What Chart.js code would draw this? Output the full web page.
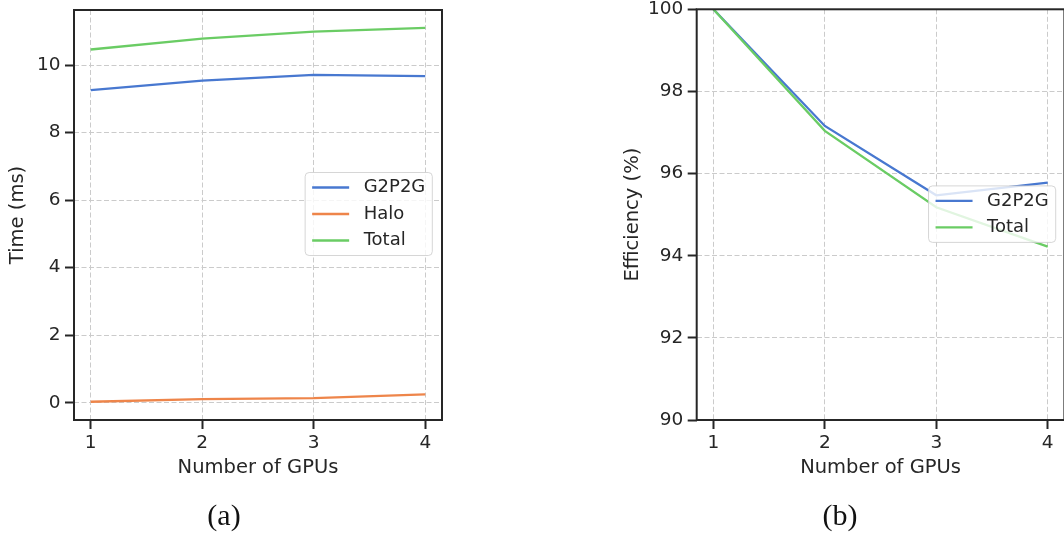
<!DOCTYPE html>
<html><head><meta charset="utf-8">
<script src="https://cdn.jsdelivr.net/npm/chart.js@4.4.1/dist/chart.umd.min.js"></script>
<style>
html,body{margin:0;padding:0;background:#fff;overflow:hidden;width:1064px;height:534px;position:relative;}
#cA{position:absolute;left:0;top:0;}
#cB{position:absolute;left:600px;top:0;}
.cap{position:absolute;font-family:"Liberation Serif",serif;font-size:30px;line-height:1;color:#111;transform:translate(-50%,-50%);white-space:nowrap;}
</style></head><body>
<canvas id="cA" width="470" height="534"></canvas>
<canvas id="cB" width="480" height="534"></canvas>
<div class="cap" style="left:224px;top:515px">(a)</div>
<div class="cap" style="left:840px;top:515px">(b)</div>
<script>
// ---- data ----
const gpus = [1, 2, 3, 4];
const timeG2P2G = [9.26, 9.54, 9.71, 9.67];
const timeHalo  = [0.03, 0.11, 0.14, 0.25];
const timeTotal = [10.46, 10.78, 10.99, 11.10];
const effG2P2G  = [100, 97.16, 95.47, 95.78];
const effTotal  = [100, 97.04, 95.18, 94.22];
const xTicks    = [1, 2, 3, 4];
const timeTicks = [0, 2, 4, 6, 8, 10];
const effTicks  = [90, 92, 94, 96, 98, 100];

const FONT = '"DejaVu Sans", sans-serif';
const INK = '#262626';
const BLUE = '#4878d0', ORANGE = '#ee854a', GREEN = '#6acc64';
const GRID = '#cbcbcb';

const pts = arr => gpus.map((g, i) => ({x: g, y: arr[i]}));

const spinePlugin = {
  id: 'spines',
  afterDatasetsDraw(chart) {
    const {ctx, chartArea: ca} = chart;
    ctx.save();
    ctx.strokeStyle = INK;
    ctx.lineWidth = 2;
    ctx.strokeRect(ca.left, ca.top, ca.right - ca.left, ca.bottom - ca.top);
    ctx.restore();
  }
};

const boxLegend = {
  id: 'boxLegend',
  afterDraw(chart, args, opts) {
    const {ctx, chartArea: ca} = chart;
    const items = chart.data.datasets.map(d => ({label: d.label, color: d.borderColor}));
    ctx.save();
    ctx.font = opts.size + 'px ' + FONT;
    const tw = Math.max(...items.map(i => ctx.measureText(i.label).width));
    const padL = 7, handle = 37, gap = 14.5, padR = 7, rowH = 26.5, padV = 1.75;
    const w = padL + handle + gap + tw + padR;
    const h = items.length * rowH + 2 * padV;
    const x = ca.right - opts.inset - w;
    const y = (ca.top + ca.bottom) / 2 - h / 2 + (opts.dy || 0);
    ctx.beginPath();
    ctx.roundRect(x, y, w, h, 4);
    ctx.fillStyle = 'rgba(255,255,255,0.8)';
    ctx.fill();
    ctx.strokeStyle = 'rgba(204,204,204,0.8)';
    ctx.lineWidth = 1;
    ctx.stroke();
    items.forEach((it, i) => {
      const cy = y + padV + rowH * (i + 0.5);
      ctx.beginPath();
      ctx.moveTo(x + padL, cy);
      ctx.lineTo(x + padL + handle, cy);
      ctx.strokeStyle = it.color;
      ctx.lineWidth = 2.3;
      ctx.stroke();
      ctx.fillStyle = INK;
      ctx.textBaseline = 'middle';
      ctx.textAlign = 'left';
      ctx.fillText(it.label, x + padL + handle + gap, cy);
    });
    ctx.restore();
  }
};

function xScale() {
  return {
    type: 'linear', min: 0.85, max: 4.15,
    afterBuildTicks: s => { s.ticks = xTicks.map(v => ({value: v})); },
    afterFit: s => { s.height = 60; s.paddingLeft = 0; s.paddingRight = 0; },
    ticks: {font: {family: FONT, size: 18.5}, color: INK, padding: 3.5, callback: v => String(v), maxRotation: 0},
    grid: {color: GRID, lineWidth: 1, tickColor: INK, tickLength: 9, tickWidth: 2},
    border: {display: false, dash: [5, 2.5]},
    title: {display: true, text: 'Number of GPUs', font: {family: FONT, size: 19.5}, color: INK, padding: 0}
  };
}
function yScale(min, max, ticks, title, width, titlePad) {
  return {
    type: 'linear', min: min, max: max,
    afterBuildTicks: s => { s.ticks = ticks.map(v => ({value: v})); },
    afterFit: s => { s.width = width; s.paddingTop = 0; s.paddingBottom = 0; },
    ticks: {font: {family: FONT, size: 18.5}, color: INK, padding: 4.5, callback: v => String(v)},
    grid: {color: GRID, lineWidth: 1, tickColor: INK, tickLength: 9, tickWidth: 2},
    border: {display: false, dash: [5, 2.5]},
    title: {display: true, text: title, font: {family: FONT, size: 19.5}, color: INK, padding: {top: titlePad, bottom: 0}}
  };
}
const lineDs = (label, data, color, order) => ({
  label, data, borderColor: color, backgroundColor: color, borderWidth: 2.3,
  pointRadius: 0, tension: 0, fill: false, order
});

new Chart(document.getElementById('cA'), {
  type: 'line',
  data: {datasets: [
    lineDs('G2P2G', pts(timeG2P2G), BLUE, 2),
    lineDs('Halo', pts(timeHalo), ORANGE, 1),
    lineDs('Total', pts(timeTotal), GREEN, 0)
  ]},
  options: {
    responsive: false, animation: false, devicePixelRatio: 1,
    layout: {padding: {left: 0, top: 10, right: 28, bottom: 54}},
    scales: {x: xScale(), y: yScale(-0.51, 11.63, timeTicks, 'Time (ms)', 74, 6.6)},
    plugins: {legend: {display: false}, tooltip: {enabled: false}, boxLegend: {size: 18, inset: 9.7, dy: -1}}
  },
  plugins: [spinePlugin, boxLegend]
});

new Chart(document.getElementById('cB'), {
  type: 'line',
  data: {datasets: [
    lineDs('G2P2G', pts(effG2P2G), BLUE, 1),
    lineDs('Total', pts(effTotal), GREEN, 0)
  ]},
  options: {
    responsive: false, animation: false, devicePixelRatio: 1,
    layout: {padding: {left: 0, top: 9.3, right: 15.6, bottom: 54}},
    scales: {x: xScale(), y: yScale(90, 100, effTicks, 'Efficiency (%)', 96.7, 21.6)},
    plugins: {legend: {display: false}, tooltip: {enabled: false}, boxLegend: {size: 18, inset: 8.7, dy: -0.5}}
  },
  plugins: [spinePlugin, boxLegend]
});
</script>
</body></html>
